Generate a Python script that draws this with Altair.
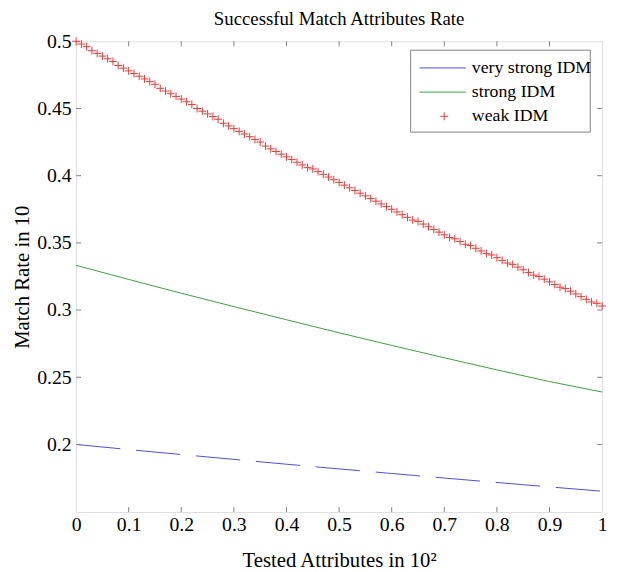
import altair as alt
import pandas as pd

# ---------------- data ----------------
line_x = [0.0, 0.1, 0.2, 0.3, 0.4, 0.5, 0.6, 0.7, 0.8, 0.9, 1.0]
very_strong = [0.2000, 0.1962, 0.1925, 0.1889, 0.1853, 0.1818, 0.1784, 0.1750, 0.1717, 0.1684, 0.1652]
strong = [0.3333, 0.3228, 0.3125, 0.3026, 0.2928, 0.2831, 0.2737, 0.2645, 0.2555, 0.2468, 0.2390]

weak_x = [i / 100 for i in range(101)]
weak = [
    0.500, 0.498, 0.496, 0.493, 0.491, 0.489, 0.487, 0.485, 0.482, 0.480,
    0.478, 0.476, 0.474, 0.472, 0.470, 0.468, 0.465, 0.463, 0.461, 0.459,
    0.457, 0.455, 0.453, 0.450, 0.448, 0.446, 0.444, 0.442, 0.439, 0.437,
    0.435, 0.433, 0.431, 0.429, 0.427, 0.425, 0.422, 0.420, 0.418, 0.416,
    0.414, 0.412, 0.410, 0.408, 0.406, 0.405, 0.403, 0.401, 0.399, 0.397,
    0.395, 0.393, 0.391, 0.389, 0.387, 0.385, 0.383, 0.381, 0.379, 0.377,
    0.375, 0.373, 0.371, 0.369, 0.367, 0.366, 0.364, 0.362, 0.360, 0.358,
    0.356, 0.354, 0.353, 0.351, 0.349, 0.348, 0.346, 0.344, 0.342, 0.341,
    0.339, 0.337, 0.335, 0.334, 0.332, 0.330, 0.328, 0.326, 0.325, 0.323,
    0.321, 0.319, 0.317, 0.316, 0.314, 0.312, 0.310, 0.308, 0.306, 0.305,
    0.303,
]

x_ticks = [0, 0.1, 0.2, 0.3, 0.4, 0.5, 0.6, 0.7, 0.8, 0.9, 1]
y_ticks = [0.2, 0.25, 0.3, 0.35, 0.4, 0.45, 0.5]
legend_labels = ["very strong IDM", "strong IDM", "weak IDM"]

BLUE = "#4b4be6"
GREEN = "#3e9e3e"
RED = "#ee3838"
FRAME = "#808080"
FONT = "Liberation Serif"

W, H = 533, 477

# ---------------- scales / axes ----------------
xs = alt.Scale(domain=[0, 1], nice=False, zero=False)
ys = alt.Scale(domain=[0.1497, 0.5], nice=False, zero=False)

x_axis = alt.Axis(values=x_ticks, format="~g", tickSize=0, domain=False, grid=False,
                  labelFont=FONT, labelFontSize=20, labelColor="black", labelPadding=3,
                  labelFlush=False,
                  title="Tested Attributes in 10²", titleFont=FONT, titleFontSize=21,
                  titleFontWeight="normal", titleColor="black", titlePadding=15)
y_axis = alt.Axis(values=y_ticks, format="~g", tickSize=0, domain=False, grid=False,
                  labelFont=FONT, labelFontSize=20, labelColor="black", labelPadding=5,
                  labelFlush=False,
                  title="Match Rate in 10", titleFont=FONT, titleFontSize=21,
                  titleFontWeight="normal", titleColor="black", titlePadding=4)

X = alt.X("x:Q", scale=xs, axis=x_axis)
Y = alt.Y("y:Q", scale=ys, axis=y_axis)

df_blue = pd.DataFrame({"x": line_x, "y": very_strong})
df_green = pd.DataFrame({"x": line_x, "y": strong})
df_red = pd.DataFrame({"x": weak_x, "y": weak})

blue = alt.Chart(df_blue).mark_line(color=BLUE, strokeWidth=1, strokeDash=[45, 16]).encode(x=X, y=Y)
green = alt.Chart(df_green).mark_line(color=GREEN, strokeWidth=1).encode(x=X, y=Y)
plus = "M-1,0H1M0,-1V1"
red = alt.Chart(df_red).mark_point(shape=plus, filled=False, color=RED, strokeWidth=1,
                                   size=64, opacity=1).encode(x=X, y=Y)

# inward ticks on all four sides
df_xt = pd.DataFrame({"x": x_ticks[1:-1]})
df_yt = pd.DataFrame({"y": y_ticks[:-1]})
TL = 5
tick_b = alt.Chart(df_xt).mark_rule(color=FRAME, strokeWidth=1).encode(
    x=X, y=alt.value(H), y2=alt.value(H - TL))
tick_t = alt.Chart(df_xt).mark_rule(color=FRAME, strokeWidth=1).encode(
    x=X, y=alt.value(0), y2=alt.value(TL))
tick_l = alt.Chart(df_yt).mark_rule(color=FRAME, strokeWidth=1).encode(
    y=Y, x=alt.value(0), x2=alt.value(TL))
tick_r = alt.Chart(df_yt).mark_rule(color=FRAME, strokeWidth=1).encode(
    y=Y, x=alt.value(W), x2=alt.value(W - TL))

# ---------------- legend (manual, MATLAB style) ----------------
LX0, LX1, LY0, LY1 = 339, 521, 9, 92
ROW0, ROWSTEP = 27, 24.5
box = alt.Chart(pd.DataFrame({"a": [0]})).mark_rect(
    fill="white", stroke=FRAME, strokeWidth=1).encode(
    x=alt.value(LX0), x2=alt.value(LX1), y=alt.value(LY0), y2=alt.value(LY1))

leg_lines = []
for i, col in enumerate([BLUE, GREEN]):
    yy = ROW0 + ROWSTEP * i
    leg_lines.append(
        alt.Chart(pd.DataFrame({"a": [0]})).mark_rule(color=col, strokeWidth=1).encode(
            x=alt.value(348), x2=alt.value(395), y=alt.value(yy)))
leg_plus = alt.Chart(pd.DataFrame({"a": [0]})).mark_point(
    shape=plus, filled=False, color=RED, strokeWidth=1, size=64, opacity=1).encode(
    x=alt.value(373), y=alt.value(ROW0 + ROWSTEP * 2))

leg_text_layers = []
for i, lab in enumerate(legend_labels):
    leg_text_layers.append(
        alt.Chart(pd.DataFrame({"t": [lab]})).mark_text(
            font=FONT, fontSize=18, align="left", baseline="middle", color="black").encode(
            text="t:N", x=alt.value(401), y=alt.value(ROW0 + ROWSTEP * i)))

chart = alt.layer(
    blue, green, red, tick_b, tick_t, tick_l, tick_r,
    box, *leg_lines, leg_plus, *leg_text_layers
).properties(
    width=W, height=H,
    title=alt.TitleParams("Successful Match Attributes Rate", font=FONT, fontSize=19,
                          fontWeight="normal", color="black", anchor="middle", offset=3),
    autosize=alt.AutoSizeParams(type="none"),
    padding={"left": 69, "top": 30, "right": 8, "bottom": 57},
).configure_view(stroke=FRAME, strokeWidth=1.2).configure(background="white")

chart.save("out.html", embed_options={"renderer": "svg", "actions": False})
